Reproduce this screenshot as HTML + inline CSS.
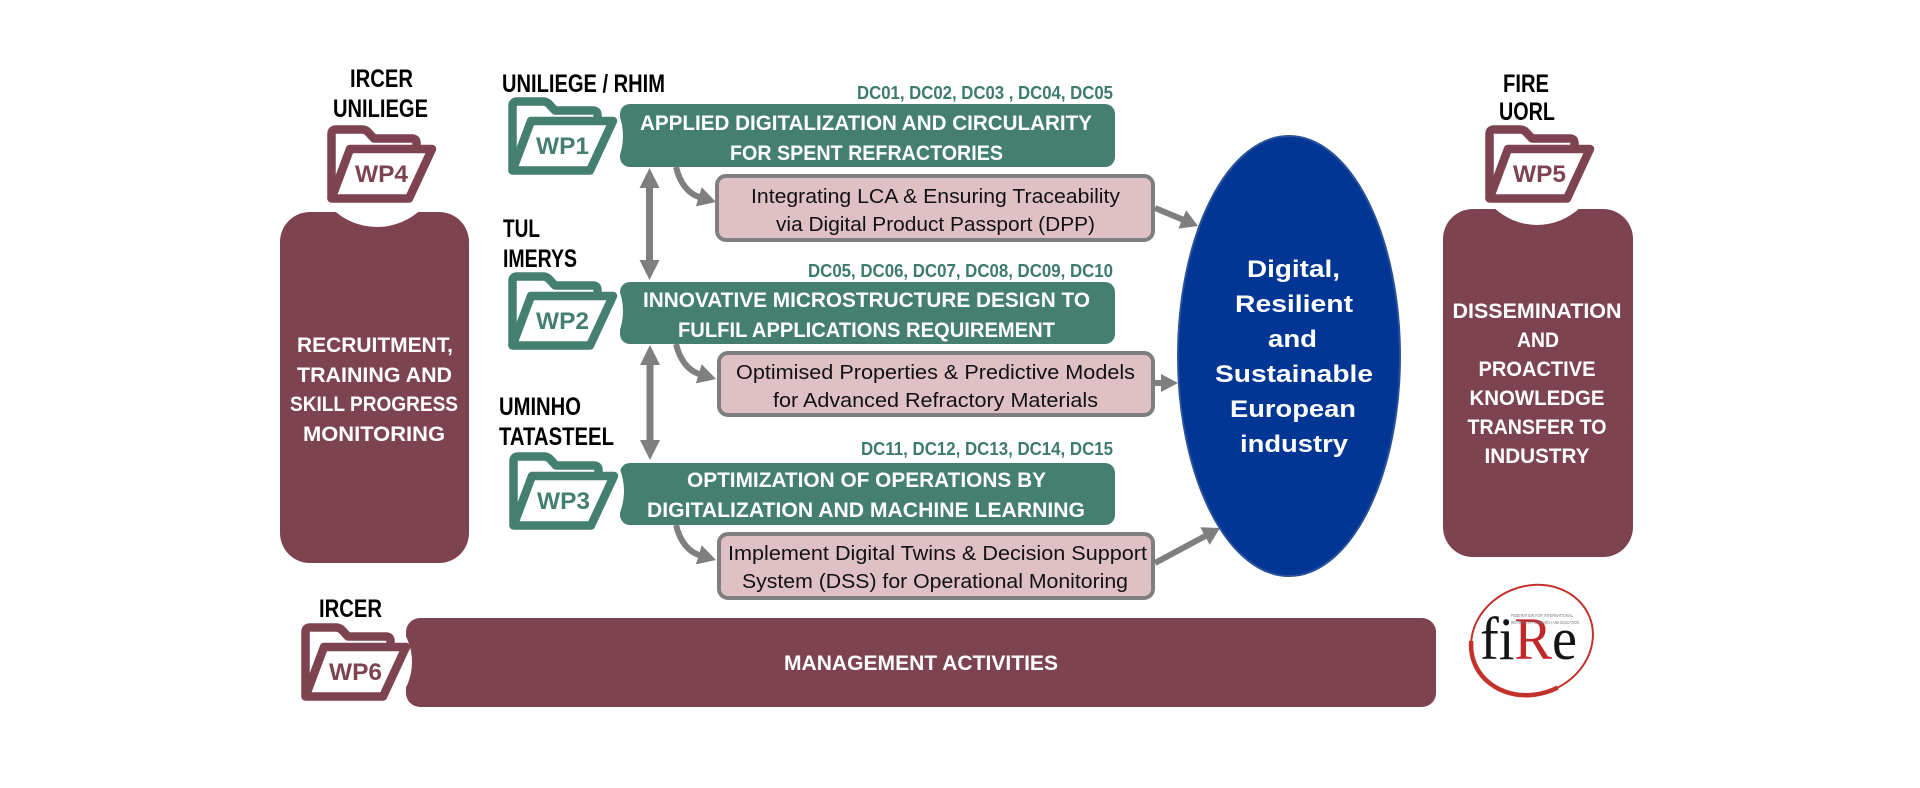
<!DOCTYPE html>
<html>
<head>
<meta charset="utf-8">
<style>
html,body{margin:0;padding:0;background:#fff;width:1920px;height:788px;overflow:hidden;}
svg{display:block;}
.s{font-family:"Liberation Sans",Arial,sans-serif;}
.serif{font-family:"Liberation Serif","Times New Roman",serif;}
</style>
</head>
<body>
<svg width="1920" height="788" viewBox="0 0 1920 788" xmlns="http://www.w3.org/2000/svg">
<rect width="1920" height="788" fill="#fff"/>

<!-- ===== Left body (WP4) ===== -->
<rect x="280" y="212" width="189" height="351" rx="30" fill="#7e4350"/>
<circle cx="377" cy="163" r="64" fill="#fff"/>

<!-- ===== Right body (WP5) ===== -->
<rect x="1443" y="209" width="190" height="348" rx="30" fill="#7e4350"/>
<circle cx="1537" cy="163" r="62" fill="#fff"/>

<!-- ===== Bottom bar (WP6) ===== -->
<rect x="406" y="618" width="1030" height="89" rx="14" fill="#7e4350"/>
<circle cx="355" cy="662" r="57" fill="#fff"/>

<!-- ===== Green bars ===== -->
<rect x="620" y="104" width="495" height="63" rx="10" fill="#457f70"/>
<rect x="620" y="282" width="495" height="62" rx="10" fill="#457f70"/>
<rect x="620" y="463" width="495" height="62" rx="10" fill="#457f70"/>
<circle cx="563" cy="136" r="60" fill="#fff"/>
<circle cx="563" cy="311" r="60" fill="#fff"/>
<circle cx="564" cy="491" r="60" fill="#fff"/>

<!-- ===== Folders ===== -->
<g fill="none" stroke="#7e4350" stroke-width="8.5" stroke-linejoin="round" stroke-linecap="round">
  <g transform="translate(327,125)">
    <path d="M4.5,73 V9 Q4.5,4.5 9,4.5 H35 Q38,4.5 40.5,6.5 L47,13.5 H85 Q89.5,13.5 89.5,18 V23"/>
    <path d="M4.5,73.5 L23,24 H105 L82,73.5 Z"/>
  </g>
  <g transform="translate(1485,125)">
    <path d="M4.5,73 V9 Q4.5,4.5 9,4.5 H35 Q38,4.5 40.5,6.5 L47,13.5 H85 Q89.5,13.5 89.5,18 V23"/>
    <path d="M4.5,73.5 L23,24 H105 L82,73.5 Z"/>
  </g>
  <g transform="translate(301,623)">
    <path d="M4.5,73 V9 Q4.5,4.5 9,4.5 H35 Q38,4.5 40.5,6.5 L47,13.5 H85 Q89.5,13.5 89.5,18 V23"/>
    <path d="M4.5,73.5 L23,24 H105 L82,73.5 Z"/>
  </g>
</g>
<g fill="none" stroke="#457f70" stroke-width="8.5" stroke-linejoin="round" stroke-linecap="round">
  <g transform="translate(508,97)">
    <path d="M4.5,73 V9 Q4.5,4.5 9,4.5 H35 Q38,4.5 40.5,6.5 L47,13.5 H85 Q89.5,13.5 89.5,18 V23"/>
    <path d="M4.5,73.5 L23,24 H105 L82,73.5 Z"/>
  </g>
  <g transform="translate(508,272)">
    <path d="M4.5,73 V9 Q4.5,4.5 9,4.5 H35 Q38,4.5 40.5,6.5 L47,13.5 H85 Q89.5,13.5 89.5,18 V23"/>
    <path d="M4.5,73.5 L23,24 H105 L82,73.5 Z"/>
  </g>
  <g transform="translate(509,452)">
    <path d="M4.5,73 V9 Q4.5,4.5 9,4.5 H35 Q38,4.5 40.5,6.5 L47,13.5 H85 Q89.5,13.5 89.5,18 V23"/>
    <path d="M4.5,73.5 L23,24 H105 L82,73.5 Z"/>
  </g>
</g>

<!-- WP labels -->
<g class="s" font-weight="bold" font-size="24">
  <text class="s" x="355" y="182" textLength="53" lengthAdjust="spacingAndGlyphs" fill="#7e4350">WP4</text>
  <text class="s" x="1513" y="182" textLength="53" lengthAdjust="spacingAndGlyphs" fill="#7e4350">WP5</text>
  <text class="s" x="329" y="680" textLength="53" lengthAdjust="spacingAndGlyphs" fill="#7e4350">WP6</text>
  <text class="s" x="536" y="154" textLength="53" lengthAdjust="spacingAndGlyphs" fill="#457f70">WP1</text>
  <text class="s" x="536" y="329" textLength="53" lengthAdjust="spacingAndGlyphs" fill="#457f70">WP2</text>
  <text class="s" x="537" y="509" textLength="53" lengthAdjust="spacingAndGlyphs" fill="#457f70">WP3</text>
</g>

<!-- ===== Black partner labels ===== -->
<g class="s" font-weight="bold" font-size="25" fill="#000">
  <text class="s" x="350" y="87" textLength="63" lengthAdjust="spacingAndGlyphs">IRCER</text>
  <text class="s" x="333" y="117" textLength="95" lengthAdjust="spacingAndGlyphs">UNILIEGE</text>
  <text class="s" x="502" y="92" textLength="163" lengthAdjust="spacingAndGlyphs">UNILIEGE / RHIM</text>
  <text class="s" x="503" y="237" textLength="37" lengthAdjust="spacingAndGlyphs">TUL</text>
  <text class="s" x="503" y="267" textLength="74" lengthAdjust="spacingAndGlyphs">IMERYS</text>
  <text class="s" x="499" y="415" textLength="82" lengthAdjust="spacingAndGlyphs">UMINHO</text>
  <text class="s" x="499" y="445" textLength="115" lengthAdjust="spacingAndGlyphs">TATASTEEL</text>
  <text class="s" x="1503" y="92" textLength="46" lengthAdjust="spacingAndGlyphs">FIRE</text>
  <text class="s" x="1499" y="120" textLength="56" lengthAdjust="spacingAndGlyphs">UORL</text>
  <text class="s" x="319" y="617" textLength="63" lengthAdjust="spacingAndGlyphs">IRCER</text>
</g>

<!-- ===== DC labels ===== -->
<g class="s" font-weight="bold" font-size="18" fill="#3d7b6c">
  <text class="s" x="857" y="99" textLength="256" lengthAdjust="spacingAndGlyphs">DC01, DC02, DC03 , DC04, DC05</text>
  <text class="s" x="808" y="277" textLength="305" lengthAdjust="spacingAndGlyphs">DC05, DC06, DC07, DC08, DC09, DC10</text>
  <text class="s" x="861" y="455" textLength="252" lengthAdjust="spacingAndGlyphs">DC11, DC12, DC13, DC14, DC15</text>
</g>

<!-- ===== Green bar texts ===== -->
<g class="s" font-weight="bold" font-size="21" fill="#fff">
  <text class="s" x="640" y="130" textLength="452" lengthAdjust="spacingAndGlyphs">APPLIED DIGITALIZATION AND CIRCULARITY</text>
  <text class="s" x="730" y="160" textLength="273" lengthAdjust="spacingAndGlyphs">FOR SPENT REFRACTORIES</text>
  <text class="s" x="643" y="307" textLength="447" lengthAdjust="spacingAndGlyphs">INNOVATIVE MICROSTRUCTURE DESIGN TO</text>
  <text class="s" x="678" y="337" textLength="377" lengthAdjust="spacingAndGlyphs">FULFIL APPLICATIONS REQUIREMENT</text>
  <text class="s" x="687" y="487" textLength="359" lengthAdjust="spacingAndGlyphs">OPTIMIZATION OF OPERATIONS BY</text>
  <text class="s" x="647" y="517" textLength="438" lengthAdjust="spacingAndGlyphs">DIGITALIZATION AND MACHINE LEARNING</text>
</g>

<!-- ===== Vertical double arrows ===== -->
<g fill="#7f7f7f">
  <polygon points="649.5,168 659.5,188 653,188 653,260 659.5,260 649.5,280 639.5,260 646,260 646,188 639.5,188"/>
  <polygon points="650,345 660,365 653.5,365 653.5,440 660,440 650,460 640,440 646.5,440 646.5,365 640,365"/>
</g>

<!-- ===== Curved arrows from bars to pink boxes ===== -->
<g fill="none" stroke="#7f7f7f" stroke-width="6">
  <path d="M676,167 Q682,191 699,197"/>
  <path d="M676,344 Q682,368 699,374"/>
  <path d="M676,525 Q682,549 699,555"/>
</g>
<g fill="#7f7f7f">
  <polygon points="716,202 695.9,206.4 701.7,187.2"/>
  <polygon points="716,379 695.9,383.4 701.7,364.2"/>
  <polygon points="716,560 695.9,564.4 701.7,545.2"/>
</g>

<!-- ===== Pink boxes ===== -->
<g fill="#dfc1c5" stroke="#7f7f7f" stroke-width="4">
  <rect x="717" y="176" width="436" height="64" rx="9"/>
  <rect x="719" y="353" width="434" height="62" rx="9"/>
  <rect x="719" y="534" width="434" height="64" rx="9"/>
</g>
<g class="s" font-size="20" fill="#111">
  <text class="s" x="751" y="203" textLength="369" lengthAdjust="spacingAndGlyphs">Integrating LCA &amp; Ensuring Traceability</text>
  <text class="s" x="776" y="231" textLength="319" lengthAdjust="spacingAndGlyphs">via Digital Product Passport (DPP)</text>
  <text class="s" x="736" y="379" textLength="399" lengthAdjust="spacingAndGlyphs">Optimised Properties &amp; Predictive Models</text>
  <text class="s" x="773" y="407" textLength="325" lengthAdjust="spacingAndGlyphs">for Advanced Refractory Materials</text>
  <text class="s" x="728" y="560" textLength="419" lengthAdjust="spacingAndGlyphs">Implement Digital Twins &amp; Decision Support</text>
  <text class="s" x="742" y="588" textLength="386" lengthAdjust="spacingAndGlyphs">System (DSS) for Operational Monitoring</text>
</g>

<!-- ===== Arrows to ellipse ===== -->
<g stroke="#7f7f7f" stroke-width="6" fill="none">
  <line x1="1155" y1="208" x2="1183" y2="219.7"/>
  <line x1="1155" y1="383" x2="1162" y2="383"/>
  <line x1="1155" y1="563" x2="1206" y2="535.6"/>
</g>
<g fill="#7f7f7f">
  <polygon points="1198,226 1178.4,228.6 1186.2,210.2"/>
  <polygon points="1178,383 1161,374 1161,392"/>
  <polygon points="1220,528 1209.7,544.9 1200.3,527.3"/>
</g>

<!-- ===== Ellipse ===== -->
<ellipse cx="1289" cy="356" rx="111" ry="220" fill="#023694" stroke="#2a519b" stroke-width="2"/>
<g class="s" font-weight="bold" font-size="24" fill="#fff">
  <text class="s" x="1247" y="277" textLength="93" lengthAdjust="spacingAndGlyphs">Digital,</text>
  <text class="s" x="1235" y="312" textLength="118" lengthAdjust="spacingAndGlyphs">Resilient</text>
  <text class="s" x="1268" y="347" textLength="49" lengthAdjust="spacingAndGlyphs">and</text>
  <text class="s" x="1215" y="382" textLength="158" lengthAdjust="spacingAndGlyphs">Sustainable</text>
  <text class="s" x="1230" y="417" textLength="126" lengthAdjust="spacingAndGlyphs">European</text>
  <text class="s" x="1240" y="452" textLength="108" lengthAdjust="spacingAndGlyphs">industry</text>
</g>

<!-- ===== Body texts ===== -->
<g class="s" font-weight="bold" font-size="21" fill="#fff">
  <text class="s" x="297" y="352" textLength="156" lengthAdjust="spacingAndGlyphs">RECRUITMENT,</text>
  <text class="s" x="297" y="382" textLength="155" lengthAdjust="spacingAndGlyphs">TRAINING AND</text>
  <text class="s" x="290" y="411" textLength="168" lengthAdjust="spacingAndGlyphs">SKILL PROGRESS</text>
  <text class="s" x="303" y="441" textLength="142" lengthAdjust="spacingAndGlyphs">MONITORING</text>

  <text class="s" x="1452.5" y="318" textLength="169" lengthAdjust="spacingAndGlyphs">DISSEMINATION</text>
  <text class="s" x="1517" y="347" textLength="42" lengthAdjust="spacingAndGlyphs">AND</text>
  <text class="s" x="1478.5" y="376" textLength="117" lengthAdjust="spacingAndGlyphs">PROACTIVE</text>
  <text class="s" x="1469.5" y="405" textLength="135" lengthAdjust="spacingAndGlyphs">KNOWLEDGE</text>
  <text class="s" x="1467.5" y="434" textLength="139" lengthAdjust="spacingAndGlyphs">TRANSFER TO</text>
  <text class="s" x="1484.5" y="463" textLength="105" lengthAdjust="spacingAndGlyphs">INDUSTRY</text>

  <text class="s" x="784" y="670" textLength="274" lengthAdjust="spacingAndGlyphs">MANAGEMENT ACTIVITIES</text>
</g>

<!-- ===== FIRE logo ===== -->
<ellipse cx="1532" cy="640" rx="62" ry="54" transform="rotate(-22 1532 640)" fill="none" stroke="#c3312b" stroke-width="2"/>
<ellipse cx="1532" cy="640" rx="62" ry="54" transform="rotate(-22 1532 640)" fill="none" stroke="#c3312b" stroke-width="4.5" stroke-dasharray="0 85 120 200"/>
<text class="serif" x="1480" y="659" font-size="60" textLength="97" lengthAdjust="spacingAndGlyphs" fill="#151515">fi<tspan fill="#c0282a">R</tspan>e</text>
<g class="s" font-size="4.5" fill="#777">
  <text class="s" x="1511" y="617" textLength="62" lengthAdjust="spacingAndGlyphs">FEDERATION FOR INTERNATIONAL</text>
  <text class="s" x="1511" y="624" textLength="68" lengthAdjust="spacingAndGlyphs">REFRACTORY RESEARCH AND EDUCATION</text>
</g>

</svg>
</body>
</html>
